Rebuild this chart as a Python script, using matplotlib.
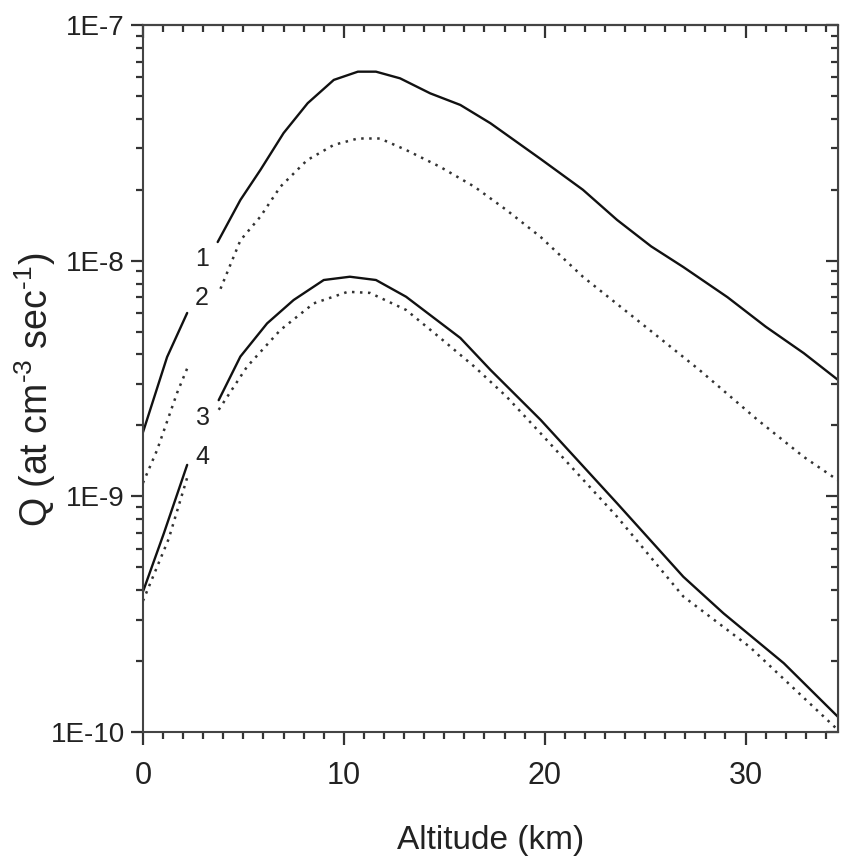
import numpy as np
import matplotlib.pyplot as plt
from matplotlib.ticker import FixedLocator, LogLocator, NullFormatter, MultipleLocator

# --- data (altitude in km, Q in at cm^-3 sec^-1) ---
alt_1 = [0, 1.2, 2.2, 3.72, 4.85, 5.85, 7.0, 8.2, 9.5, 10.7, 11.6, 12.8, 14.3, 15.8,
         17.3, 19.8, 21.9, 23.6, 25.3, 26.9, 29.1, 31.0, 32.9, 34.6]
q_1 = [1.87e-9, 3.9e-9, 6.0e-9, 1.2e-8, 1.81e-8, 2.43e-8, 3.48e-8, 4.66e-8, 5.85e-8,
       6.34e-8, 6.34e-8, 5.94e-8, 5.13e-8, 4.58e-8, 3.83e-8, 2.7e-8, 2.0e-8, 1.49e-8,
       1.15e-8, 9.4e-9, 7.0e-9, 5.25e-9, 4.05e-9, 3.12e-9]

alt_2 = [0, 0.7, 1.7, 2.2, 3.86, 4.85, 5.85, 6.84, 8.17, 9.5, 10.7, 11.8, 13.1, 14.8,
         16.5, 18.1, 19.8, 21.9, 25.2, 27.7, 30.6, 32.9, 34.6]
q_2 = [1.14e-9, 1.57e-9, 2.75e-9, 3.49e-9, 7.6e-9, 1.22e-8, 1.54e-8, 2.06e-8, 2.67e-8,
       3.1e-8, 3.3e-8, 3.3e-8, 2.95e-8, 2.5e-8, 2.06e-8, 1.64e-8, 1.26e-8, 8.55e-9,
       5.1e-9, 3.44e-9, 2.11e-9, 1.47e-9, 1.17e-9]

alt_3 = [0, 1.04, 2.2, 3.77, 4.85, 6.18, 7.5, 9.0, 10.3, 11.6, 13.1, 15.8, 17.3, 19.8,
         23.6, 26.9, 28.9, 31.9, 34.6]
q_3 = [3.94e-10, 6.97e-10, 1.36e-9, 2.56e-9, 3.92e-9, 5.42e-9, 6.81e-9, 8.28e-9,
       8.55e-9, 8.28e-9, 7.03e-9, 4.7e-9, 3.44e-9, 2.11e-9, 9.35e-10, 4.56e-10,
       3.19e-10, 1.96e-10, 1.16e-10]

alt_4 = [0, 1.28, 2.2, 3.77, 5.18, 6.84, 8.5, 10.2, 11.3, 13.1, 14.8, 16.5, 18.1, 19.8,
         23.6, 26.9, 30.2, 34.6]
q_4 = [3.6e-10, 6.6e-10, 1.2e-9, 2.33e-9, 3.55e-9, 5.08e-9, 6.59e-9, 7.38e-9, 7.3e-9,
       6.18e-9, 4.7e-9, 3.55e-9, 2.65e-9, 1.85e-9, 8.2e-10, 3.76e-10, 2.3e-10, 1.02e-10]

curve_names = ["1", "2", "3", "4"]
label_alt = [2.93, 2.93, 3.0, 2.95]
label_q = [1.02e-8, 6.92e-9, 2.14e-9, 1.47e-9]

x_ticks = [0, 10, 20, 30]
y_ticks = [1e-10, 1e-9, 1e-8, 1e-7]
y_tick_labels = ["1E-10", "1E-9", "1E-8", "1E-7"]

# --- style ---
plt.rcParams["font.family"] = ["Liberation Sans", "DejaVu Sans"]
plt.rcParams["mathtext.fontset"] = "custom"
plt.rcParams["mathtext.rm"] = "Liberation Sans"
solid = dict(color="#111111", lw=1.7, linestyle="-", solid_capstyle="round")
dotted = dict(color="#333333", lw=1.8, linestyle=(0, (1, 2.2)))
styles = [solid, dotted, solid, dotted]

fig = plt.figure(figsize=(8.41, 8.66), dpi=100)
ax = fig.add_axes([0.170, 0.1547, 0.8264, 0.8164])

# each curve has a break near 2-4 km where the number labels sit
for xs, ys, st in zip([alt_1, alt_2, alt_3, alt_4], [q_1, q_2, q_3, q_4], styles):
    xs = np.array(xs)
    ys = np.array(ys)
    lo = xs <= 2.2
    hi = xs >= 3.7
    ax.plot(xs[lo], ys[lo], **st)
    ax.plot(xs[hi], ys[hi], **st)

for name, xl, yl in zip(curve_names, label_alt, label_q):
    ax.text(xl, yl, name, fontsize=18, ha="center", va="center", color="#222222")

ax.set_yscale("log")
ax.set_xlim(0, 34.6)
ax.set_ylim(1e-10, 1e-7)

ax.xaxis.set_major_locator(FixedLocator(x_ticks))
ax.xaxis.set_minor_locator(MultipleLocator(1))
ax.yaxis.set_major_locator(FixedLocator(y_ticks))
ax.set_yticklabels(y_tick_labels)
ax.yaxis.set_minor_locator(LogLocator(base=10, subs=np.arange(2, 10)))
ax.yaxis.set_minor_formatter(NullFormatter())

ax.tick_params(which="both", direction="out", width=1.6, color="#333333",
               labelcolor="#222222")
ax.tick_params(which="major", length=9, pad=4)
ax.tick_params(which="minor", length=5)
ax.tick_params(axis="y", labelsize=20)
ax.tick_params(axis="x", which="major", labelsize=22, pad=12)

for sp in ax.spines.values():
    sp.set_linewidth(1.5)
    sp.set_color("#444444")

# top and right ticks point inward
top = ax.secondary_xaxis("top")
top.xaxis.set_major_locator(FixedLocator(x_ticks))
top.xaxis.set_minor_locator(MultipleLocator(1))
top.tick_params(which="both", direction="in", width=1.6, color="#333333", labeltop=False)
top.tick_params(which="major", length=9)
top.tick_params(which="minor", length=5)
top.spines["top"].set_linewidth(1.5)

right = ax.secondary_yaxis("right")
right.yaxis.set_major_locator(FixedLocator(y_ticks))
right.yaxis.set_minor_locator(LogLocator(base=10, subs=np.arange(2, 10)))
right.yaxis.set_minor_formatter(NullFormatter())
right.tick_params(which="both", direction="in", width=1.6, color="#333333", labelright=False)
right.tick_params(which="major", length=9)
right.tick_params(which="minor", length=5)

ax.set_xlabel("Altitude (km)", fontsize=24, color="#222222", labelpad=24)
fig.text(0.042, 0.55, r"Q (at cm$^{\text{-3}}$ sec$^{\text{-1}}$)", rotation=90,
         fontsize=27, ha="center", va="center", color="#222222")

fig.savefig("out.png", dpi=100)
